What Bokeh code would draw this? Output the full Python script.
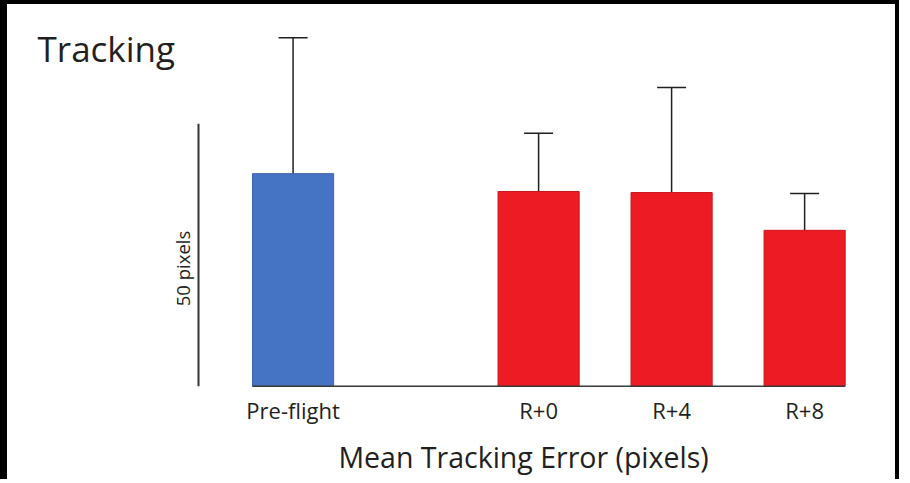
from math import pi
from bokeh.plotting import figure
from bokeh.models import Range1d, ColumnDataSource, Whisker, TeeHead, Label
from bokeh.embed import file_html
from bokeh.resources import INLINE

# ---- data ----
groups = ["pre", "post", "post", "post"]
sessions = ["Pre-flight", "R+0", "R+4", "R+8"]
mean_error = [40.5, 37.1, 36.9, 29.7]
sd_error = [25.9, 11.1, 20.0, 7.0]
bar_colors = ["#4674c4", "#ed1c24", "#ed1c24", "#ed1c24"]
edge_colors = ["#3b64ae", "#c8161d", "#c8161d", "#c8161d"]
scale_bar = [0, 50]
title_text = "Tracking"
x_label = "Mean Tracking Error (pixels)"
scale_label = "50 pixels"

# ---- layout constants ----
GROUP_GAP = 0.846
BAR_W = 0.61
TXT = "#231f20"
FONT = "Open Sans"

# category slots: consecutive, with an extra gap between the two groups
x_pos = [i + (GROUP_GAP if g != groups[0] else 0.0) for i, g in enumerate(groups)]

src = ColumnDataSource(dict(
    x=x_pos,
    mean=mean_error,
    upper=[m + s for m, s in zip(mean_error, sd_error)],
    fill=bar_colors,
    edge=edge_colors,
))

W, H = 899, 479
p = figure(width=W, height=H, x_range=Range1d(-2.147, 4.612), y_range=Range1d(-18.54, 72.73),
           output_backend="svg", toolbar_location=None,
           min_border=0, min_border_left=0, min_border_right=0,
           min_border_top=0, min_border_bottom=0)
p.styles = {"border-left": "7px solid black", "border-top": "4px solid black",
            "border-right": "4px solid black"}
p.axis.visible = False
p.grid.visible = False
p.background_fill_color = "white"
p.border_fill_color = "white"
p.outline_line_color = None

p.vbar(x="x", top="mean", width=BAR_W, source=src,
       fill_color="fill", line_color="edge", line_width=1)

p.add_layout(Whisker(source=src, base="x", lower="mean", upper="upper",
                     line_color=TXT, line_width=1.5, lower_head=None,
                     upper_head=TeeHead(size=29, line_color=TXT, line_width=1.5)))

# baseline under the bars
p.segment(x0=[x_pos[0] - BAR_W / 2], y0=[0], x1=[x_pos[-1] + BAR_W / 2], y1=[0],
          line_color="#3a3a3a", line_width=1.5)

# 50-unit scale bar on the left
p.segment(x0=[-0.711], y0=[scale_bar[0]], x1=[-0.711], y1=[scale_bar[1]],
          line_color="#333333", line_width=2)

# category labels
p.text(x=x_pos, y=[-4.44] * len(x_pos), text=sessions,
       text_font={"value": FONT}, text_font_size="22px", text_color=TXT,
       text_align="center", text_baseline="alphabetic")

p.add_layout(Label(x=-1.921, y=64.3, text=title_text,
                   text_font=FONT, text_font_size="35px", text_color=TXT,
                   text_align="left", text_baseline="alphabetic"))
p.add_layout(Label(x=-0.831, y=22.43, text=scale_label,
                   angle=pi / 2, text_font=FONT, text_font_size="18.5px", text_color=TXT,
                   text_align="center", text_baseline="middle"))
p.add_layout(Label(x=1.733, y=-13.47, text=x_label,
                   text_font=FONT, text_font_size="28.5px", text_color=TXT,
                   text_align="center", text_baseline="alphabetic"))

open("out.html", "w").write(file_html(p, INLINE))
